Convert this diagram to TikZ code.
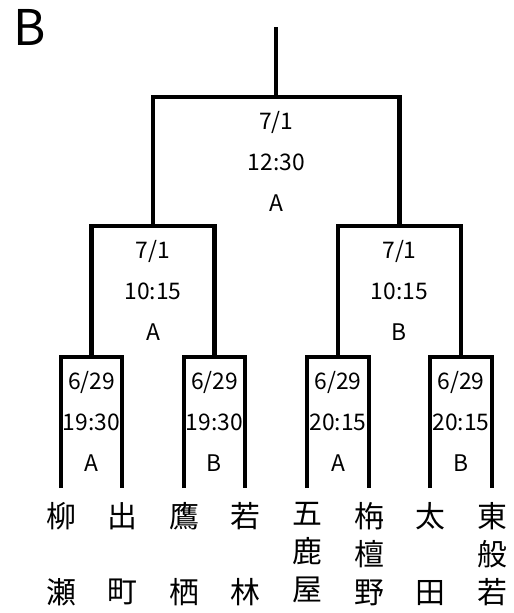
\documentclass[tikz,border=0pt]{standalone}
\usepackage{fontspec}
\setmainfont{Noto Sans CJK JP}
\usetikzlibrary{positioning}
\tikzstyle{bracket} = [line width=2.3pt, line join=miter]
\tikzstyle{match} = [align=center, inner sep=0pt, font=\fontsize{13}{23.2}\selectfont]
\tikzstyle{team} = [anchor=north, align=center, inner xsep=0pt, inner ysep=8pt, font=\fontsize{17}{21.5}\selectfont]

\begin{document}
\begin{tikzpicture}[x=0.02cm, y=-0.02cm]

\useasboundingbox (0,0) rectangle (514,613);

\node (title) at (30,27) [font=\fontsize{28}{28}\selectfont] {B};

% teams
\node (t1) [team] at (61,488) {柳\\\mbox{}\\瀬};
\node (t2) [team] at (122,488) {出\\\mbox{}\\町};
\node (t3) [team] at (184,488) {鷹\\\mbox{}\\栖};
\node (t4) [team] at (245,488) {若\\\mbox{}\\林};
\node (t5) [team] at (307,488) {五\\鹿\\屋};
\node (t6) [team] at (369,488) {栴\\檀\\野};
\node (t7) [team] at (430,488) {太\\\mbox{}\\田};
\node (t8) [team] at (492,488) {東\\般\\若};

% bar junctions
\coordinate (b1) at (91.5,357);
\coordinate (b2) at (214.5,357);
\coordinate (b3) at (338,357);
\coordinate (b4) at (461,357);
\coordinate (c1) at (153,226);
\coordinate (c2) at (399.5,226);
\coordinate (f) at (276.25,97);
\coordinate (top) at (276.25,27);

% match labels
\node (l1) [match, below=8pt of b1] {6/29\\19:30\\A};
\node (l2) [match, below=8pt of b2] {6/29\\19:30\\B};
\node (l3) [match, below=8pt of b3] {6/29\\20:15\\A};
\node (l4) [match, below=8pt of b4] {6/29\\20:15\\B};
\node (l5) [match, below=8pt of c1] {7/1\\10:15\\A};
\node (l6) [match, below=8pt of c2] {7/1\\10:15\\B};
\node (l7) [match, below=8pt of f] {7/1\\12:30\\A};

\draw [bracket] (t1.north) |- (b1) -| (t2.north);
\draw [bracket] (t3.north) |- (b2) -| (t4.north);
\draw [bracket] (t5.north) |- (b3) -| (t6.north);
\draw [bracket] (t7.north) |- (b4) -| (t8.north);
\draw [bracket] (b1) |- (c1) -| (b2);
\draw [bracket] (b3) |- (c2) -| (b4);
\draw [bracket] (c1) |- (f) -| (c2);
\draw [bracket] (f) -- (top);

\end{tikzpicture}
\end{document}
